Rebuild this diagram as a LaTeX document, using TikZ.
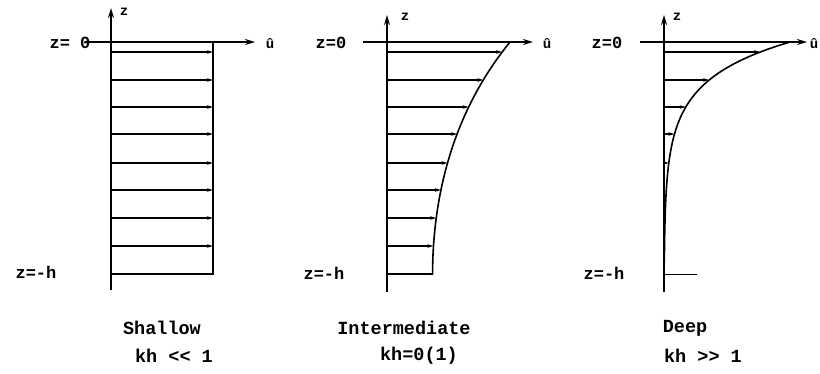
\documentclass[tikz,border=0pt]{standalone}
\usepackage{fontspec}
\setmainfont{Liberation Mono}[Ligatures=ResetAll]
\usetikzlibrary{arrows.meta}
\tikzset{
  axis/.style={line width=1.6pt,-{Stealth[length=10pt,width=6pt]}},
  prof/.style={line width=1.6pt},
  vel/.style={line width=1.1pt,-{Stealth[length=6pt,width=3.5pt]}},
  lbl/.style={font=\fontsize{18.5}{20}\selectfont\bfseries},
  tag/.style={font=\fontsize{17}{19}\selectfont\bfseries},
  ztag/.style={font=\fontsize{14}{16}\selectfont\bfseries}
}

\begin{document}
\begin{tikzpicture}[x=1pt,y=-1pt]
  \useasboundingbox (0,0) rectangle (820,373);
  % shallow
  \draw[axis](111,290)--(111,8);
  \draw[axis](85,42)--(255,42);
  \node[ztag] (zA) at (124,12){z};
  \node[ztag] (uA) at (270,44){û};
  \node[tag] (zeroA) at (70,43){z= 0};
  \node[tag] (hA) at (36,272){z=-h};
  \draw[prof](111,274)--(213,274)--(213,42);
  \foreach \d in {10,38,65,92,121,148,176,204}
    \draw[vel](111,42+\d)--(213,42+\d);
  \node[lbl] (nameA) at (162,328){Shallow};
  \node[lbl] (kA) at (174,356){kh <\kern0pt< 1};
  % intermediate
  \draw[axis](387,292)--(387,15);
  \draw[axis](363,42)--(533,42);
  \node[ztag] (zB) at (405,17){z};
  \node[ztag] (uB) at (547,44){û};
  \node[tag] (zeroB) at (331,43){z=0};
  \node[tag] (hB) at (324,273){z=-h};
  \draw[prof](387,274)--({387+123/cosh(1.65)},274)
    -- plot[domain=232:0,samples=40]({387+123*cosh(1.65*(232-\x)/232)/cosh(1.65)},{42+\x});
  \foreach \d in {10,38,65,92,121,148,176,204}
    \draw[vel](387,42+\d)--({387+123*cosh(1.65*(232-\d)/232)/cosh(1.65)},42+\d);
  \node[lbl] (nameB) at (404,328){Intermediate};
  \node[lbl] (kB) at (419,356){kh=0(1)};
  % deep
  \draw[axis](664,292)--(664,15);
  \draw[axis](640,42)--(807,42);
  \node[ztag] (zC) at (677,17){z};
  \node[ztag] (uC) at (814,44){û};
  \node[tag] (zeroC) at (607,43){z=0};
  \node[tag] (hC) at (604,273){z=-h};
  \draw[prof] plot[domain=0:220,samples=60]({664+126*exp(-0.027*\x)},{42+\x});
  \draw[line width=1pt](664,274)--(697,274);
  \foreach \d in {10,38,65,92,121}
    \draw[vel](664,42+\d)--({664+126*exp(-0.027*\d)},42+\d);
  \node[lbl] (nameC) at (685,328){Deep};
  \node[lbl] (kC) at (703,356){kh >\kern0pt> 1};
\end{tikzpicture}
\end{document}
